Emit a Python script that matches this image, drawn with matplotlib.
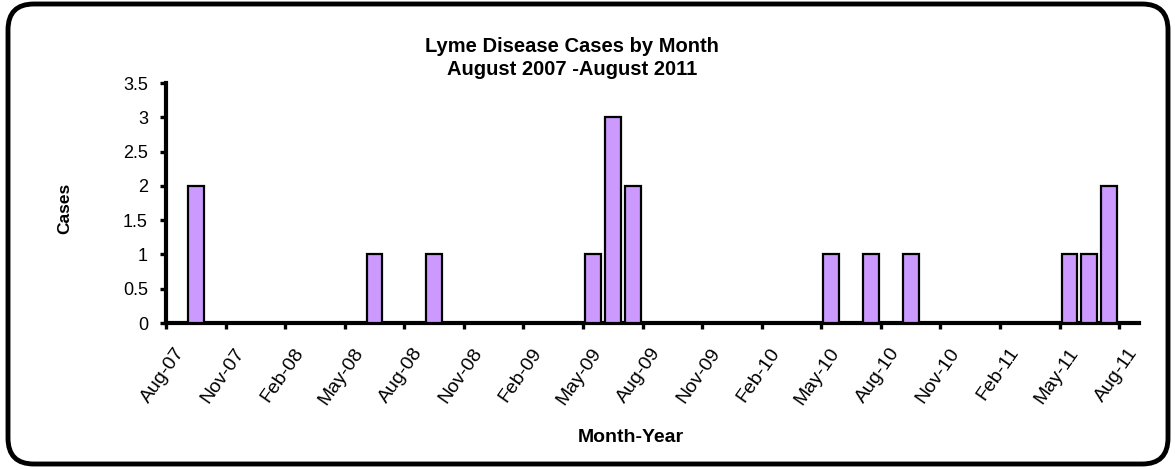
import matplotlib
matplotlib.use("Agg")
import matplotlib.pyplot as plt
from matplotlib.patches import FancyBboxPatch
from matplotlib.transforms import ScaledTranslation

plt.rcParams['font.family'] = ['Liberation Sans', 'DejaVu Sans']

months = ["Aug-07", "Sep-07", "Oct-07", "Nov-07", "Dec-07", "Jan-08", "Feb-08", "Mar-08",
          "Apr-08", "May-08", "Jun-08", "Jul-08", "Aug-08", "Sep-08", "Oct-08", "Nov-08",
          "Dec-08", "Jan-09", "Feb-09", "Mar-09", "Apr-09", "May-09", "Jun-09", "Jul-09",
          "Aug-09", "Sep-09", "Oct-09", "Nov-09", "Dec-09", "Jan-10", "Feb-10", "Mar-10",
          "Apr-10", "May-10", "Jun-10", "Jul-10", "Aug-10", "Sep-10", "Oct-10", "Nov-10",
          "Dec-10", "Jan-11", "Feb-11", "Mar-11", "Apr-11", "May-11", "Jun-11", "Jul-11",
          "Aug-11"]
cases = [0, 2, 0, 0, 0, 0, 0, 0,
         0, 0, 1, 0, 0, 1, 0, 0,
         0, 0, 0, 0, 0, 1, 3, 2,
         0, 0, 0, 0, 0, 0, 0, 0,
         0, 1, 0, 1, 0, 1, 0, 0,
         0, 0, 0, 0, 0, 1, 1, 2,
         0]
yticks = [0, 0.5, 1, 1.5, 2, 2.5, 3, 3.5]
ytick_labels = ["0", "0.5", "1", "1.5", "2", "2.5", "3", "3.5"]

W, H = 1175, 470
fig = plt.figure(figsize=(W / 100, H / 100), dpi=100)
ax = fig.add_axes([166 / W, 1 - 323 / H, (1139 - 166) / W, (323 - 83) / H])

xs = [i + 0.5 for i in range(len(months))]
ax.bar(xs, cases, width=0.8, color='#CC99FF', edgecolor='black', linewidth=1.6, zorder=3)

ax.set_xlim(0, len(months))
ax.set_ylim(0, 3.5)
for s in ['top', 'right']:
    ax.spines[s].set_visible(False)
for s in ['left', 'bottom']:
    ax.spines[s].set_linewidth(3.0)
ax.tick_params(axis='both', direction='out', length=4, width=2.4)
ax.tick_params(axis='y', pad=9)
ax.tick_params(axis='x', pad=0)

ax.set_yticks(yticks)
ax.set_yticklabels(ytick_labels, fontsize=13)
tick_pos = list(range(0, len(months), 3))
ax.set_xticks(tick_pos)
ax.set_xticklabels([months[i] for i in tick_pos], rotation=55, ha='right',
                   va='top', rotation_mode='anchor', fontsize=14)
off = ScaledTranslation(8 / 100, -16 / 100, fig.dpi_scale_trans)
for lbl in ax.get_xticklabels():
    lbl.set_transform(lbl.get_transform() + off)

fig.text(572 / W, 1 - 52 / H, "Lyme Disease Cases by Month", ha='center', va='baseline',
         fontsize=14.5, fontweight='bold')
fig.text(572 / W, 1 - 75 / H, "August 2007 -August 2011", ha='center', va='baseline',
         fontsize=14.5, fontweight='bold')
fig.text(65 / W, 1 - 208 / H, "Cases", rotation=90, ha='center', va='center',
         fontsize=12.5, fontweight='bold')
fig.text(631 / W, 1 - 442 / H, "Month-Year", ha='center', va='baseline',
         fontsize=14, fontweight='bold')

border = FancyBboxPatch((8 / W, 6 / H), (1168 - 8) / W, (466 - 6) / H,
                        boxstyle="round,pad=0,rounding_size=0.022",
                        transform=fig.transFigure, fill=False, edgecolor='black',
                        linewidth=3.5, mutation_aspect=W / H)
fig.patches.append(border)

fig.savefig("out.png", dpi=100)
